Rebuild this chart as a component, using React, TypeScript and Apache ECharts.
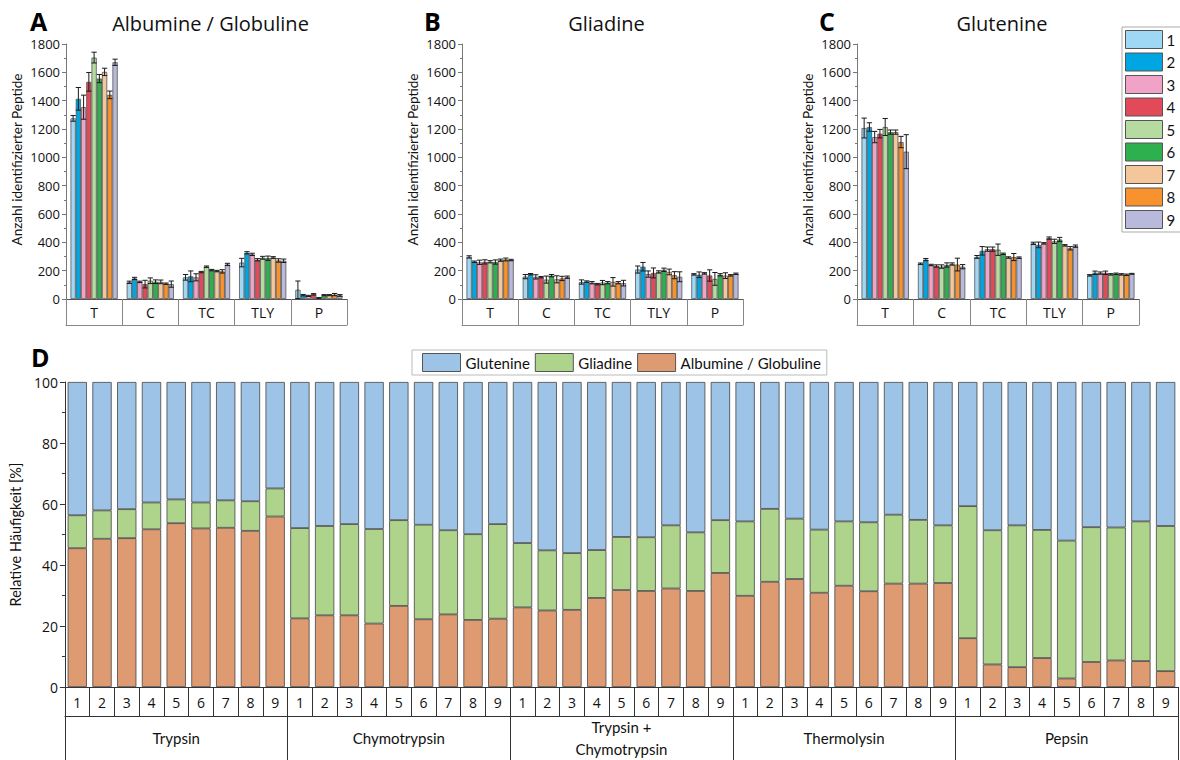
import React, { useEffect, useRef } from 'react';
import * as echarts from 'echarts';

// Digestion shorthand used on the x axes of panels A–C
const digestGroups = ['T', 'C', 'TC', 'TLY', 'P'];
const replicateNames = ['1', '2', '3', '4', '5', '6', '7', '8', '9'];
const replicateColors = [
  '#9fd8f5', '#00a6e2', '#f0a3c6', '#e24a5a', '#b6dba0',
  '#2fb04f', '#f3c79b', '#f7922f', '#b9b9dc',
];

// Identified peptides per replicate (rows) and digestion (columns: T, C, TC, TLY, P)
const albuminCounts = [
  [1275, 118, 153, 257, 65],
  [1413, 145, 160, 326, 27],
  [1354, 121, 153, 315, 22],
  [1533, 105, 190, 277, 33],
  [1704, 129, 228, 291, 7],
  [1556, 122, 204, 288, 27],
  [1603, 121, 197, 293, 27],
  [1441, 108, 195, 272, 31],
  [1671, 105, 244, 270, 25],
];
const albuminErrors = [
  [20, 8, 20, 30, 62],
  [80, 8, 38, 8, 5],
  [85, 5, 25, 8, 4],
  [66, 27, 5, 8, 5],
  [38, 20, 5, 10, 3],
  [29, 13, 5, 15, 4],
  [26, 13, 5, 6, 4],
  [27, 5, 12, 12, 8],
  [22, 22, 8, 12, 6],
];

const gliadinCounts = [
  [297, 158, 120, 208, 174],
  [263, 175, 123, 228, 171],
  [259, 156, 115, 176, 181],
  [262, 154, 105, 184, 166],
  [263, 137, 116, 191, 142],
  [261, 165, 115, 206, 171],
  [274, 139, 121, 191, 165],
  [279, 145, 115, 168, 167],
  [275, 154, 112, 157, 178],
];
const gliadinErrors = [
  [8, 15, 15, 25, 5],
  [5, 5, 5, 30, 20],
  [15, 15, 8, 22, 5],
  [15, 5, 5, 35, 40],
  [8, 25, 15, 8, 45],
  [15, 8, 8, 12, 8],
  [8, 25, 30, 20, 20],
  [10, 15, 8, 25, 5],
  [5, 8, 20, 35, 5],
];

const gluteninCounts = [
  [1207, 249, 297, 393, 167],
  [1214, 278, 340, 382, 185],
  [1143, 240, 352, 393, 183],
  [1167, 233, 352, 430, 185],
  [1214, 229, 348, 407, 174],
  [1178, 240, 319, 420, 178],
  [1178, 247, 293, 379, 174],
  [1108, 243, 296, 358, 171],
  [1040, 228, 292, 373, 178],
];
const gluteninErrors = [
  [70, 5, 10, 8, 5],
  [30, 8, 30, 20, 12],
  [40, 5, 15, 5, 8],
  [30, 8, 15, 8, 12],
  [60, 12, 40, 15, 5],
  [15, 15, 5, 15, 5],
  [15, 8, 5, 5, 5],
  [40, 45, 25, 12, 5],
  [120, 15, 5, 8, 3],
];

// Panel D: relative abundance (%) per enzyme, 9 replicates each
const enzymes = ['Trypsin', 'Chymotrypsin', 'Trypsin +\nChymotrypsin', 'Thermolysin', 'Pepsin'];
const sampleLabels = enzymes.flatMap(() => replicateNames);
const albuminShare = [
  45.5, 48.6, 48.8, 51.7, 53.7, 52.0, 52.2, 51.2, 55.9,
  22.5, 23.5, 23.5, 20.8, 26.6, 22.2, 23.8, 22.0, 22.4,
  26.1, 25.1, 25.3, 29.2, 31.8, 31.5, 32.3, 31.5, 37.4,
  29.9, 34.5, 35.4, 30.9, 33.2, 31.4, 33.9, 33.9, 34.1,
  16.0, 7.4, 6.5, 9.5, 2.8, 8.2, 8.7, 8.5, 5.2,
];
const gliadinShare = [
  10.8, 9.3, 9.5, 8.8, 7.8, 8.5, 9.0, 9.7, 9.2,
  29.6, 29.3, 29.9, 31.0, 28.1, 31.0, 27.6, 28.1, 31.0,
  21.1, 19.7, 18.6, 15.7, 17.4, 17.6, 20.7, 19.2, 17.3,
  24.4, 23.9, 19.8, 20.7, 21.1, 22.6, 22.6, 20.9, 18.9,
  43.3, 44.0, 46.5, 42.0, 45.2, 44.2, 43.6, 45.8, 47.6,
];
const gluteninShare = [
  43.7, 42.1, 41.7, 39.5, 38.5, 39.5, 38.8, 39.1, 34.9,
  47.9, 47.2, 46.6, 48.2, 45.3, 46.8, 48.6, 49.9, 46.6,
  52.8, 55.2, 56.1, 55.1, 50.8, 50.9, 47.0, 49.3, 45.3,
  45.7, 41.6, 44.8, 48.4, 45.7, 46.0, 43.5, 45.2, 47.0,
  40.7, 48.6, 47.0, 48.5, 52.0, 47.6, 47.7, 45.7, 47.2,
];

const FONT = '"Open Sans", sans-serif';
const NARROW = 'Lato, sans-serif';
const BAR_GAP = 0.16;
const plain = (v: number) => String(v);

const panels = [
  { letter: 'A', title: 'Albumine / Globuline', counts: albuminCounts, errors: albuminErrors, left: 66, width: 281 },
  { letter: 'B', title: 'Gliadine', counts: gliadinCounts, errors: gliadinErrors, left: 462, width: 281 },
  { letter: 'C', title: 'Glutenine', counts: gluteninCounts, errors: gluteninErrors, left: 857, width: 282 },
];

function buildOption() {
  const grid: any[] = [];
  const xAxis: any[] = [];
  const yAxis: any[] = [];
  const series: any[] = [];
  const graphic: any[] = [];

  panels.forEach((p, pi) => {
    grid.push({ left: p.left, top: 44, width: p.width, height: 255 });
    xAxis.push({
      type: 'category',
      gridIndex: pi,
      data: digestGroups,
      axisLine: { show: true, lineStyle: { color: '#555', width: 1 } },
      axisTick: { show: true, interval: 0, alignWithLabel: false, length: 26, lineStyle: { color: '#888' } },
      axisLabel: { interval: 0, margin: 13, verticalAlign: 'middle', fontSize: 14, color: '#111', fontFamily: FONT },
    });
    xAxis.push({
      type: 'category',
      gridIndex: pi,
      data: digestGroups,
      position: 'bottom',
      offset: 26,
      axisLine: { show: true, lineStyle: { color: '#888', width: 1 } },
      axisTick: { show: false },
      axisLabel: { show: false },
    });
    yAxis.push({
      type: 'value',
      gridIndex: pi,
      min: 0,
      max: 1800,
      interval: 200,
      name: 'Anzahl identifizierter Peptide',
      nameLocation: 'middle',
      nameGap: 42,
      nameRotate: 90,
      nameTextStyle: { fontSize: 13.5, color: '#111', fontFamily: NARROW, padding: [0, 0, 0, 24] },
      axisLine: { show: true, lineStyle: { color: '#777' } },
      axisTick: { show: true, length: 4, lineStyle: { color: '#777' } },
      minorTick: { show: true, splitNumber: 2, length: 2, lineStyle: { color: '#777' } },
      splitLine: { show: false },
      axisLabel: { fontSize: 13, margin: 6, color: '#111', fontFamily: FONT, formatter: plain },
    });

    p.counts.forEach((row, i) => {
      series.push({
        type: 'bar',
        name: replicateNames[i],
        xAxisIndex: pi * 2,
        yAxisIndex: pi,
        data: row,
        barGap: '0%',
        barCategoryGap: `${BAR_GAP * 100}%`,
        itemStyle: { color: replicateColors[i], borderColor: '#555', borderWidth: 0.8 },
      });
    });
    p.counts.forEach((row, i) => {
      series.push({
        type: 'custom',
        name: `sd-${p.letter}-${i}`,
        xAxisIndex: pi * 2,
        yAxisIndex: pi,
        z: 5,
        data: row.map((v, g) => [g, v, p.errors[i][g]]),
        encode: { x: 0, y: 1 },
        renderItem: (params: any, api: any) => {
          const g = api.value(0);
          const v = api.value(1);
          const e = api.value(2);
          const band = api.size([1, 0])[0];
          const inner = band * (1 - BAR_GAP);
          const bw = inner / replicateNames.length;
          const x = api.coord([g, v])[0] - inner / 2 + bw * (i + 0.5);
          const yTop = api.coord([g, v + e])[1];
          const yBot = api.coord([g, Math.max(0, v - e)])[1];
          const cap = bw * 0.5;
          const style = { stroke: '#1a1a1a', lineWidth: 1 };
          return {
            type: 'group',
            children: [
              { type: 'line', shape: { x1: x, y1: yTop, x2: x, y2: yBot }, style },
              { type: 'line', shape: { x1: x - cap, y1: yTop, x2: x + cap, y2: yTop }, style },
              { type: 'line', shape: { x1: x - cap, y1: yBot, x2: x + cap, y2: yBot }, style },
            ],
          };
        },
      });
    });

    graphic.push({
      type: 'text',
      x: p.left - 36 + (pi === 0 ? 0 : -2),
      y: 21,
      style: { text: p.letter, fontSize: 25, fontWeight: 'bold', fontFamily: FONT, fill: '#000', textAlign: 'left', textVerticalAlign: 'middle' },
    });
    graphic.push({
      type: 'text',
      x: p.left + p.width / 2 + 4,
      y: 23,
      style: { text: p.title, fontSize: 20, fontFamily: FONT, fill: '#111', textAlign: 'center', textVerticalAlign: 'middle' },
    });
  });

  // Panel D
  grid.push({ left: 60, top: 382, width: 1118, height: 307 });
  xAxis.push({
    type: 'category',
    gridIndex: 3,
    data: sampleLabels,
    axisLine: { show: true, lineStyle: { color: '#333', width: 1 } },
    axisTick: { show: true, interval: 0, alignWithLabel: false, length: 29, lineStyle: { color: '#333' } },
    axisLabel: { interval: 0, margin: 15, verticalAlign: 'middle', fontSize: 14, color: '#111', fontFamily: FONT },
  });
  xAxis.push({
    type: 'category',
    gridIndex: 3,
    data: enzymes,
    position: 'bottom',
    offset: 29,
    axisLine: { show: true, lineStyle: { color: '#333', width: 1 } },
    axisTick: { show: true, interval: 0, alignWithLabel: false, length: 60, lineStyle: { color: '#333' } },
    axisLabel: { interval: 0, margin: 22, verticalAlign: 'middle', lineHeight: 22, fontSize: 15, color: '#111', fontFamily: NARROW },
  });
  yAxis.push({
    type: 'value',
    gridIndex: 3,
    min: 0,
    max: 100,
    interval: 20,
    name: 'Relative Häufigkeit [%]',
    nameLocation: 'middle',
    nameGap: 35,
    nameRotate: 90,
    nameTextStyle: { fontSize: 14.5, color: '#111', fontFamily: NARROW },
    axisLine: { show: true, lineStyle: { color: '#333' } },
    axisTick: { show: true, length: 5, lineStyle: { color: '#333' } },
    minorTick: { show: true, splitNumber: 2, length: 3, lineStyle: { color: '#333' } },
    splitLine: { show: false },
    axisLabel: { fontSize: 14, margin: 7, color: '#111', fontFamily: FONT, formatter: plain },
  });
  const shareSeries = [
    { name: 'Albumine / Globuline', data: albuminShare, color: '#de9b72' },
    { name: 'Gliadine', data: gliadinShare, color: '#aed48c' },
    { name: 'Glutenine', data: gluteninShare, color: '#9dc3e6' },
  ];
  shareSeries.forEach((s) => {
    series.push({
      type: 'bar',
      name: s.name,
      xAxisIndex: 6,
      yAxisIndex: 3,
      stack: 'share',
      data: s.data,
      barCategoryGap: '22%',
      itemStyle: { color: s.color, borderColor: '#444', borderWidth: 0.8 },
    });
  });
  graphic.push({
    type: 'text',
    x: 31,
    y: 357,
    style: { text: 'D', fontSize: 25, fontWeight: 'bold', fontFamily: FONT, fill: '#000', textAlign: 'left', textVerticalAlign: 'middle' },
  });

  return {
    animation: false,
    backgroundColor: '#fff',
    textStyle: { fontFamily: FONT },
    grid,
    xAxis,
    yAxis,
    series,
    graphic,
    legend: [
      {
        data: replicateNames,
        orient: 'vertical',
        left: 1122,
        top: 27,
        padding: [3, 8, 3, 3],
        itemWidth: 37,
        itemHeight: 18,
        itemGap: 3.5,
        selectedMode: false,
        borderColor: '#aaa',
        borderWidth: 1,
        icon: 'rect',
        itemStyle: { borderColor: '#555', borderWidth: 1 },
        textStyle: { fontSize: 15, color: '#111', fontFamily: NARROW, padding: [0, 0, 0, -1] },
      },
      {
        data: ['Glutenine', 'Gliadine', 'Albumine / Globuline'],
        orient: 'horizontal',
        left: 412,
        top: 350,
        padding: [3, 6, 3, 10],
        itemWidth: 38,
        itemHeight: 18,
        itemGap: 5,
        selectedMode: false,
        borderColor: '#bbb',
        borderWidth: 1,
        icon: 'rect',
        itemStyle: { borderColor: '#555', borderWidth: 1 },
        textStyle: { fontSize: 15, color: '#111', fontFamily: NARROW },
      },
    ],
  };
}

export default function App() {
  const ref = useRef<HTMLDivElement>(null);
  useEffect(() => {
    if (!ref.current) return;
    const chart = echarts.init(ref.current, undefined, { renderer: 'svg' });
    chart.setOption(buildOption() as any);
    return () => chart.dispose();
  }, []);
  return (
    <div
      ref={ref}
      style={{ position: 'absolute', left: 0, top: 0, width: 1180, height: 760, background: '#fff' }}
    />
  );
}
